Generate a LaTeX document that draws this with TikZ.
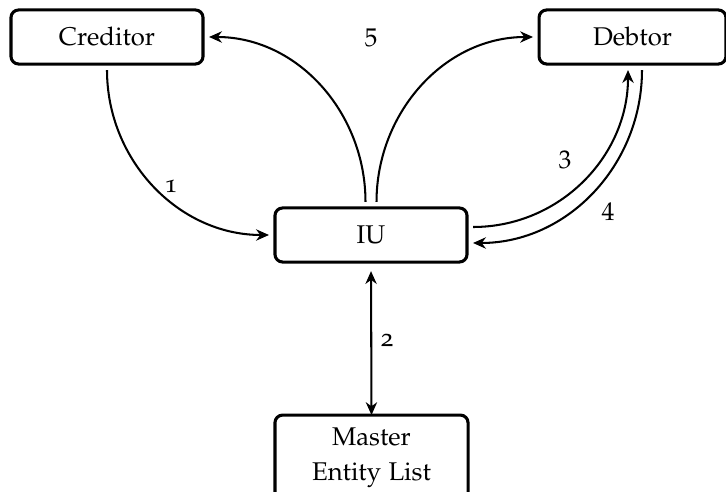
\documentclass[tikz,border=0pt]{standalone}
\usepackage[T1]{fontenc}
\usepackage[osf]{mathpazo}
\usetikzlibrary{arrows.meta}
\begin{document}
\begin{tikzpicture}[x=0.39pt,y=-0.39pt,
  box/.style={draw,line width=1.2pt,rounded corners=3pt,minimum width=74.9pt,minimum height=21.1pt,inner sep=0pt,outer sep=2.34pt,font=\fontsize{10}{12}\selectfont},
  arr/.style={line width=0.8pt,-{Stealth[length=5pt,width=4.4pt,inset=1.6pt]}},
  darr/.style={line width=0.8pt,{Stealth[length=5pt,width=4.4pt,inset=1.6pt]}-{Stealth[length=5pt,width=4.4pt,inset=1.6pt]}},
  lbl/.style={inner sep=0pt,font=\fontsize{10}{12}\selectfont}]
\useasboundingbox (0,0) rectangle (726,492);
\node[box] (cred) at (107,37) {Creditor};
\node[box,minimum width=72.9pt] (debt) at (632.5,37) {Debtor};
\node[box] (iu) at (371,235) {IU};
\node[box,minimum width=75.3pt,minimum height=33.5pt,outer sep=0pt,align=center,font=\fontsize{10}{13.7}\selectfont] (master) at (371.5,458) {Master\\Entity List};
\draw[arr] (cred.south) to[out=-90,in=180] (iu.west);
\draw[arr] ([xshift=-2.15pt]iu.north) to[out=90,in=0] (cred.east);
\draw[arr] ([xshift=2.15pt]iu.north) to[out=90,in=180] (debt.west);
\draw[arr] ([yshift=3.12pt]iu.east) to[out=0,in=-90] ([xshift=-1.75pt]debt.south);
\draw[arr] ([xshift=3.7pt]debt.south) to[out=-90,in=0] ([yshift=-3.12pt]iu.east);
\draw[darr,shorten <=1.2pt] (iu.south) -- (master.north);
\node[lbl] (l1) at (171,186) {1};
\node[lbl] (l2) at (387,340) {2};
\node[lbl] (l3) at (565,160) {$3$};
\node[lbl] (l4) at (608,212) {$4$};
\node[lbl] (l5) at (371,38) {$5$};
\end{tikzpicture}
\end{document}
